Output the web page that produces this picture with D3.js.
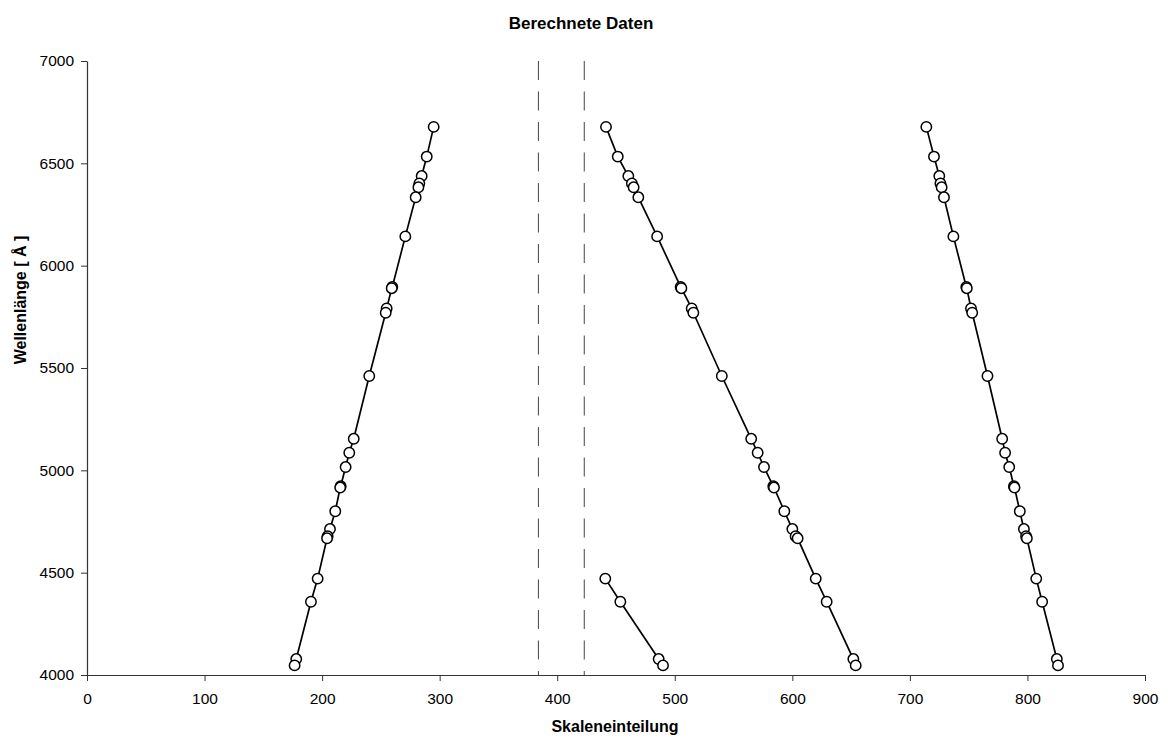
<!DOCTYPE html>
<html>
<head>
<meta charset="utf-8">
<script src="https://cdn.jsdelivr.net/npm/d3@7"></script>
<style>
  body { margin: 0; background: #fff; }
  text { font-family: "Liberation Sans", Arial, sans-serif; fill: #000; }
</style>
</head>
<body>
<svg id="chart" width="1168" height="738"></svg>
<script>
// spectral lines (Angstrom), one per point
var wavelengths = [6678, 6533, 6438, 6402, 6383, 6334, 6143, 5896, 5890, 5791, 5770, 5461,
                   5154, 5086, 5016, 4922, 4916, 4800, 4713, 4678, 4668, 4471, 4358, 4078, 4047];
// scale readings for each branch
var scaleA = [294.9, 289.0, 284.7, 282.7, 281.9, 279.6, 270.8, 259.7, 259.2, 254.9, 254.1, 240.1,
              226.9, 223.1, 220.0, 215.8, 215.4, 211.2, 206.7, 204.7, 204.2, 196.2, 190.5, 178.0, 176.6];
var scaleB = [441.5, 451.5, 460.5, 463.5, 465.0, 469.0, 485.0, 505.0, 505.6, 514.4, 515.8, 540.0,
              565.0, 570.5, 575.9, 583.8, 584.4, 593.2, 600.0, 602.8, 604.5, 619.9, 629.2, 651.9, 653.9];
var scaleC = [714.0, 720.5, 725.0, 726.0, 727.0, 729.0, 737.0, 748.0, 748.4, 752.0, 753.0, 766.0,
              778.5, 781.0, 784.5, 788.5, 789.0, 793.5, 797.0, 798.8, 799.5, 807.5, 812.5, 825.0, 826.0];
var shortWl = [4471, 4358, 4078, 4047];
var scaleD = [440.9, 453.7, 486.3, 490.0];
var markers = [384, 423];

var xTicks = [0, 100, 200, 300, 400, 500, 600, 700, 800, 900];
var yTicks = [4000, 4500, 5000, 5500, 6000, 6500, 7000];

var svg = d3.select('#chart');
var x = d3.scaleLinear().domain([0, 900]).range([87, 1145]);
var y = d3.scaleLinear().domain([4000, 7000]).range([675, 61]);

// axes
svg.append('g')
    .attr('transform', 'translate(0,' + y(4000) + ')')
    .call(d3.axisBottom(x).tickValues(xTicks).tickFormat(d3.format('d'))
        .tickSize(6).tickSizeOuter(0).tickPadding(12));
svg.append('g')
    .attr('transform', 'translate(' + x(0) + ',0)')
    .call(d3.axisLeft(y).tickValues(yTicks).tickFormat(d3.format('d'))
        .tickSize(6).tickSizeOuter(0).tickPadding(7));
svg.selectAll('.domain').attr('stroke', '#333').attr('stroke-width', 1.2);
svg.selectAll('.tick line').attr('stroke', '#333');
svg.selectAll('.tick text').style('font-size', '15.5px').attr('fill', '#000');

// dashed markers
svg.selectAll('line.marker')
    .data(markers)
  .enter().append('line')
    .attr('class', 'marker')
    .attr('x1', function(d) { return x(d) })
    .attr('x2', function(d) { return x(d) })
    .attr('y1', y(7000))
    .attr('y2', y(4000))
    .attr('stroke', '#444')
    .attr('stroke-width', 1)
    .attr('stroke-dasharray', '19,11.5');

var series = [
    {scale: scaleA, wl: wavelengths},
    {scale: scaleB, wl: wavelengths},
    {scale: scaleC, wl: wavelengths},
    {scale: scaleD, wl: shortWl}
];

var line = d3.line()
    .x(function(d) { return x(d[0]) })
    .y(function(d) { return y(d[1]) });

series.forEach(function(s) {
    var pts = s.scale.map(function(v, i) { return [v, s.wl[i]] });
    svg.append('path')
        .datum(pts)
        .attr('d', line)
        .attr('fill', 'none')
        .attr('stroke', '#000')
        .attr('stroke-width', 1.7);
    svg.append('g').selectAll('circle')
        .data(pts)
      .enter().append('circle')
        .attr('cx', function(d) { return x(d[0]) })
        .attr('cy', function(d) { return y(d[1]) })
        .attr('r', 5.2)
        .attr('fill', '#fff')
        .attr('stroke', '#000')
        .attr('stroke-width', 1.5);
});

// titles
svg.append('text')
    .attr('x', 581).attr('y', 29)
    .attr('text-anchor', 'middle')
    .style('font-size', '17px').style('font-weight', 'bold')
    .text('Berechnete Daten');
svg.append('text')
    .attr('x', 615).attr('y', 732)
    .attr('text-anchor', 'middle')
    .style('font-size', '16px').style('font-weight', 'bold')
    .text('Skaleneinteilung');
svg.append('text')
    .attr('transform', 'translate(26,300) rotate(-90)')
    .attr('text-anchor', 'middle')
    .style('font-size', '16px').style('font-weight', 'bold')
    .text('Wellenlänge [ Å ]');
</script>
</body>
</html>
